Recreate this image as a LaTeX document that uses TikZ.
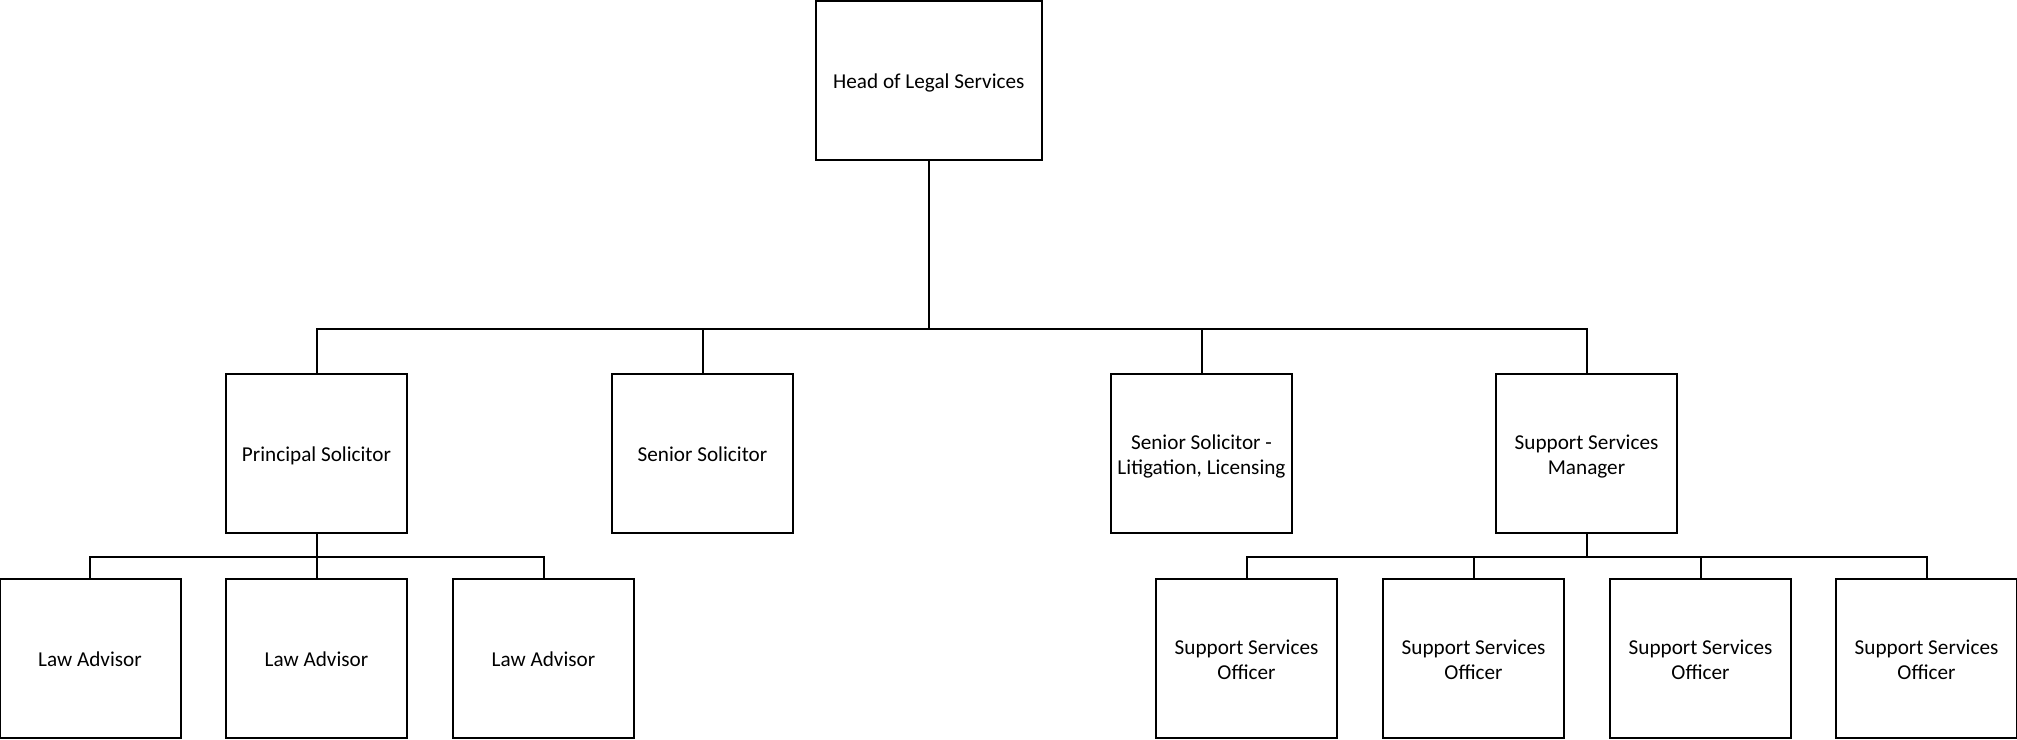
\documentclass[tikz,border=0pt]{standalone}
\usepackage{fontspec}
\setmainfont{Carlito}
\begin{document}
\begin{tikzpicture}[x=0.5pt,y=-0.5pt,
  post/.style={draw=black,line width=1pt,fill=white,inner sep=0pt,
    minimum width=90.5pt,minimum height=79.5pt,align=center,
    font=\fontsize{10.6}{12.5}\selectfont,
    text height=10.2pt,text depth=2.3pt},
  post2/.style={post,text height=23.5pt,text depth=2.3pt},
  link/.style={draw=black,line width=1pt}]
\useasboundingbox (0,0) rectangle (2017,739);

% top level
\node[post,minimum width=113pt] (head) at (928.8,80.3) {Head of Legal Services};

% second level
\node[post] (ps)  at (316.5,453.5) {Principal Solicitor};
\node[post] (ss)  at (702.5,453.5) {Senior Solicitor};
\node[post2] (ssl) at (1201.5,453.5) {Senior Solicitor -\\Litigation, Licensing};
\node[post2] (ssm) at (1586.5,453.5) {Support Services\\Manager};

% third level
\node[post] (la1) at (90,658.7) {Law Advisor};
\node[post] (la2) at (316.5,658.7) {Law Advisor};
\node[post] (la3) at (543.5,658.7) {Law Advisor};
\node[post2] (sso1) at (1246.5,658.7) {Support Services\\Officer};
\node[post2] (sso2) at (1473.5,658.7) {Support Services\\Officer};
\node[post2] (sso3) at (1700.5,658.7) {Support Services\\Officer};
\node[post2] (sso4) at (1926.5,658.7) {Support Services\\Officer};

% junctions of the connector buses
\coordinate (bus1) at (928.8,329.3);
\coordinate (bus2) at (316.5,557);
\coordinate (bus3) at (1586.5,557);

\draw[link,line width=1.3pt] (head.south) -- (bus1);
\foreach \c in {ps,ss,ssl,ssm} \draw[link] (bus1) -| (\c.north);

\draw[link] (ps.south) -- (bus2);
\foreach \c in {la1,la2,la3} \draw[link] (bus2) -| (\c.north);

\draw[link] (ssm.south) -- (bus3);
\foreach \c in {sso1,sso2,sso3,sso4} \draw[link] (bus3) -| (\c.north);
\end{tikzpicture}
\end{document}
